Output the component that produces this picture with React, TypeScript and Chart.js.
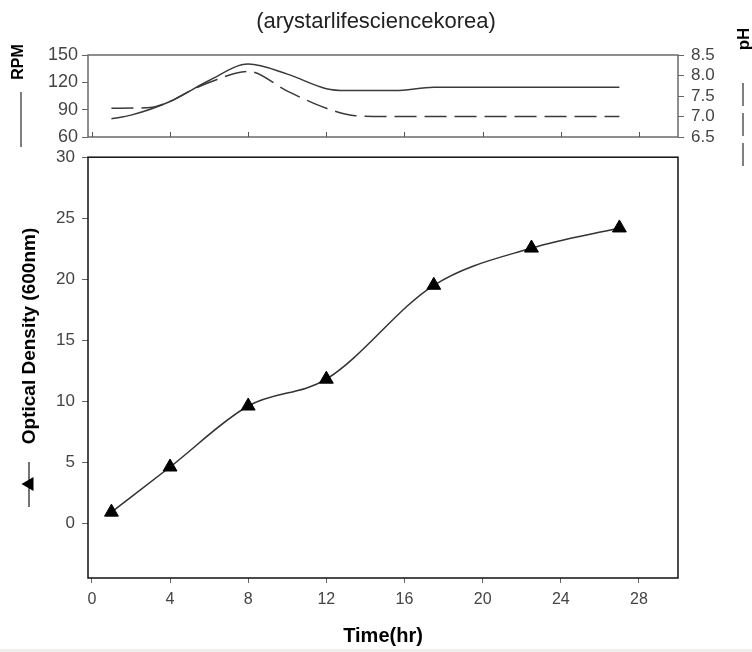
import React, { useEffect, useRef } from "react";
import { Chart, registerables } from "chart.js";

Chart.register(...registerables);

const TITLE = "(arystarlifesciencekorea)";
const X_LABEL = "Time(hr)";
const OD_LABEL = "Optical Density (600nm)";
const RPM_LABEL = "RPM";
const PH_LABEL = "pH";

const timeTicks = [0, 4, 8, 12, 16, 20, 24, 28];
const odTicks = [0, 5, 10, 15, 20, 25, 30];
const rpmTicks = [60, 90, 120, 150];
const phTicks = [6.5, 7.0, 7.5, 8.0, 8.5];

const odTime = [1, 4, 8, 12, 17.5, 22.5, 27];
const odValues = [0.9, 4.6, 9.6, 11.8, 19.5, 22.55, 24.2];

const rpmTime = [1, 2, 4, 6, 8, 10, 12, 13, 15.5, 17.5, 27];
const rpmValues = [80, 84, 99, 122, 140, 129, 113, 111, 111, 114.5, 114.5];

const phTime = [1, 3, 4, 5, 6, 8, 10, 12, 13.5, 15, 27];
const phValues = [7.2, 7.22, 7.37, 7.62, 7.83, 8.1, 7.62, 7.2, 7.02, 7.0, 7.0];

const FONT = "'Liberation Sans', Arial, Helvetica, sans-serif";
const W = 752;
const TOP_H = 170;
const MAIN_TOP = 140;
const MAIN_H = 512;

const pts = (xs: number[], ys: number[]) => xs.map((x, i) => ({ x, y: ys[i] }));
const setTicks = (vals: number[]) => (s: any) => {
  s.ticks = vals.map((v) => ({ value: v }));
};

const topPlugin = {
  id: "topDecor",
  afterDraw(chart: any) {
    const { ctx, chartArea: a, scales } = chart;
    ctx.save();
    ctx.strokeStyle = "#6a6a6a";
    ctx.lineWidth = 1.5;
    ctx.strokeRect(a.left, a.top, a.right - a.left, a.bottom - a.top);
    // inward x ticks
    ctx.strokeStyle = "#555";
    ctx.lineWidth = 1;
    const xs = scales.x;
    xs.ticks.forEach((t: any) => {
      const px = Math.round(xs.getPixelForValue(t.value)) + 0.5;
      ctx.beginPath();
      ctx.moveTo(px, a.bottom);
      ctx.lineTo(px, a.bottom - 5);
      ctx.stroke();
    });
    // RPM label + legend line
    ctx.fillStyle = "#000";
    ctx.font = `bold 16px ${FONT}`;
    ctx.textAlign = "center";
    ctx.textBaseline = "middle";
    ctx.save();
    ctx.translate(19, 62);
    ctx.rotate(-Math.PI / 2);
    ctx.fillText(RPM_LABEL, 0, 0);
    ctx.restore();
    ctx.strokeStyle = "#555";
    ctx.lineWidth = 1.5;
    ctx.beginPath();
    ctx.moveTo(21, 92);
    ctx.lineTo(21, 147);
    ctx.stroke();
    // pH label + dashed legend line
    ctx.font = `bold 17px ${FONT}`;
    ctx.save();
    ctx.translate(744, 39);
    ctx.rotate(-Math.PI / 2);
    ctx.fillText(PH_LABEL, 0, 0);
    ctx.restore();
    ctx.setLineDash([23, 7]);
    ctx.beginPath();
    ctx.moveTo(743, 83);
    ctx.lineTo(743, 166);
    ctx.stroke();
    ctx.restore();
  },
};

const mainPlugin = {
  id: "mainDecor",
  afterDraw(chart: any) {
    const { ctx, chartArea: a } = chart;
    ctx.save();
    ctx.strokeStyle = "#111";
    ctx.lineWidth = 1.5;
    ctx.strokeRect(a.left, a.top, a.right - a.left, a.bottom - a.top);
    // y title
    ctx.fillStyle = "#000";
    ctx.font = `bold 19px ${FONT}`;
    ctx.textAlign = "center";
    ctx.textBaseline = "middle";
    ctx.save();
    ctx.translate(30, 336 - MAIN_TOP);
    ctx.rotate(-Math.PI / 2);
    ctx.fillText(OD_LABEL, 0, 0);
    ctx.restore();
    // legend glyph: line with left-pointing triangle
    ctx.strokeStyle = "#444";
    ctx.lineWidth = 1.5;
    ctx.beginPath();
    ctx.moveTo(29, 462 - MAIN_TOP);
    ctx.lineTo(29, 507 - MAIN_TOP);
    ctx.stroke();
    ctx.beginPath();
    ctx.moveTo(21.5, 484 - MAIN_TOP);
    ctx.lineTo(33.5, 477 - MAIN_TOP);
    ctx.lineTo(33.5, 491 - MAIN_TOP);
    ctx.closePath();
    ctx.fill();
    ctx.restore();
  },
};

export default function App() {
  const topRef = useRef<HTMLCanvasElement>(null);
  const mainRef = useRef<HTMLCanvasElement>(null);

  useEffect(() => {
    const tickFont = (size: number) => ({ family: FONT, size, weight: "normal" as const });

    const topCfg: any = {
      type: "line",
      data: {
        datasets: [
          {
            label: RPM_LABEL,
            data: pts(rpmTime, rpmValues),
            yAxisID: "yRpm",
            borderColor: "#3a3a3a",
            borderWidth: 1.5,
            pointRadius: 0,
            cubicInterpolationMode: "monotone",
            fill: false,
          },
          {
            label: PH_LABEL,
            data: pts(phTime, phValues),
            yAxisID: "yPh",
            borderColor: "#3a3a3a",
            borderWidth: 1.5,
            borderDash: [22, 8],
            pointRadius: 0,
            cubicInterpolationMode: "monotone",
            fill: false,
          },
        ],
      },
      options: {
        responsive: false,
        animation: false,
        devicePixelRatio: 1,
        layout: { padding: 0 },
        plugins: {
          legend: { display: false },
          tooltip: { enabled: false },
          title: {
            display: true,
            text: TITLE,
            color: "#222",
            font: { family: FONT, size: 22, weight: "normal" },
            padding: { top: 9, bottom: 55 - 9 - 26.4 },
          },
        },
        scales: {
          x: {
            type: "linear",
            min: -0.2,
            max: 30,
            afterBuildTicks: setTicks(timeTicks),
            afterFit: (s: any) => {
              s.height = TOP_H - 137;
            },
            ticks: { display: false },
            grid: { display: false },
            border: { display: false },
          },
          yRpm: {
            type: "linear",
            position: "left",
            min: 60,
            max: 150,
            afterBuildTicks: setTicks(rpmTicks),
            afterFit: (s: any) => {
              s.width = 88;
            },
            ticks: { font: tickFont(18), color: "#444", padding: 4, autoSkip: false },
            grid: { drawOnChartArea: false, tickLength: 6, color: "#666" },
            border: { display: false },
          },
          yPh: {
            type: "linear",
            position: "right",
            min: 6.5,
            max: 8.5,
            afterBuildTicks: setTicks(phTicks),
            afterFit: (s: any) => {
              s.width = W - 678;
            },
            ticks: {
              font: tickFont(17),
              color: "#444",
              padding: 7,
              autoSkip: false,
              callback: (v: any) => Number(v).toFixed(1),
            },
            grid: { drawOnChartArea: false, tickLength: 6, color: "#666" },
            border: { display: false },
          },
        },
      },
      plugins: [topPlugin],
    };

    const mainCfg: any = {
      type: "line",
      data: {
        datasets: [
          {
            label: OD_LABEL,
            data: pts(odTime, odValues),
            borderColor: "#333",
            borderWidth: 1.5,
            pointStyle: "triangle",
            pointRadius: 8,
            pointBackgroundColor: "#000",
            pointBorderColor: "#000",
            pointBorderWidth: 1,
            cubicInterpolationMode: "monotone",
            fill: false,
          },
        ],
      },
      options: {
        responsive: false,
        animation: false,
        devicePixelRatio: 1,
        layout: { padding: { top: 152 - MAIN_TOP, right: W - 678, left: 0, bottom: 0 } },
        plugins: {
          legend: { display: false },
          tooltip: { enabled: false },
          title: { display: false },
        },
        scales: {
          x: {
            type: "linear",
            min: -0.2,
            max: 30,
            afterBuildTicks: setTicks(timeTicks),
            afterFit: (s: any) => {
              s.height = MAIN_H - (578 - MAIN_TOP);
            },
            ticks: { font: tickFont(16), color: "#444", padding: 7, maxRotation: 0, autoSkip: false },
            grid: { drawOnChartArea: false, tickLength: 5, color: "#666" },
            border: { display: false },
            title: {
              display: true,
              text: X_LABEL,
              color: "#000",
              font: { family: FONT, size: 20, weight: "bold" },
              padding: { top: 0, bottom: 4 },
            },
          },
          y: {
            type: "linear",
            min: -4.5,
            max: 30,
            afterBuildTicks: setTicks(odTicks),
            afterFit: (s: any) => {
              s.width = 88;
            },
            ticks: { font: tickFont(17), color: "#444", padding: 7, autoSkip: false },
            grid: { drawOnChartArea: false, tickLength: 6, color: "#666" },
            border: { display: false },
          },
        },
      },
      plugins: [mainPlugin],
    };

    const top = new Chart(topRef.current as HTMLCanvasElement, topCfg);
    const main = new Chart(mainRef.current as HTMLCanvasElement, mainCfg);
    return () => {
      top.destroy();
      main.destroy();
    };
  }, []);

  return (
    <div
      style={{
        position: "absolute",
        left: 0,
        top: 0,
        width: W,
        height: 652,
        background: "#fff",
        overflow: "hidden",
      }}
    >
      <canvas
        ref={topRef}
        width={W}
        height={TOP_H}
        style={{ position: "absolute", left: 0, top: 0, width: W, height: TOP_H, display: "block" }}
      />
      <canvas
        ref={mainRef}
        width={W}
        height={MAIN_H}
        style={{ position: "absolute", left: 0, top: MAIN_TOP, width: W, height: MAIN_H, display: "block" }}
      />
      <div style={{ position: "absolute", left: 0, top: 649, width: W, height: 3, background: "#f4eeea" }} />
    </div>
  );
}
